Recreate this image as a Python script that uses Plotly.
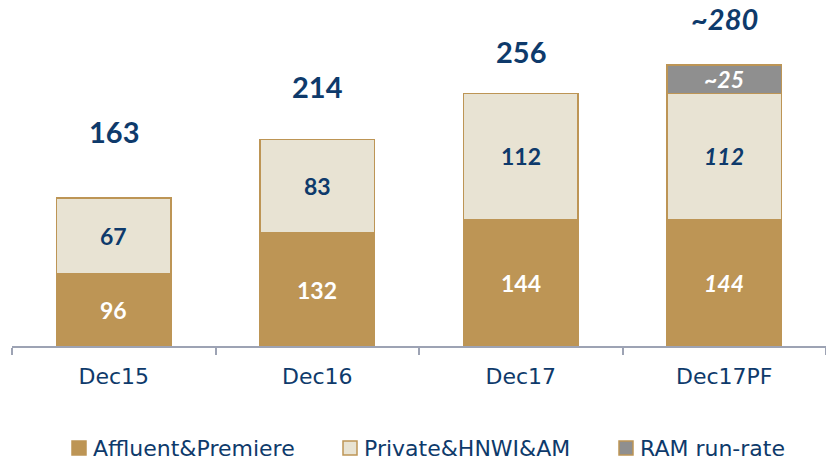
import plotly.graph_objects as go

categories = ["Dec15", "Dec16", "Dec17", "Dec17PF"]
affluent = [96, 132, 144, 144]
private = [67, 83, 112, 112]
ram = [0, 0, 0, 25]
totals = [163, 214, 256, 280]
total_labels = ["163", "214", "256", "~280"]
ram_labels = ["", "", "", "~25"]
series_names = ["Affluent&Premiere", "Private&HNWI&AM", "RAM run-rate"]
axis_floor = 32

GOLD = "#BD9555"
CREAM = "#E8E3D3"
GREY = "#8F8F8F"
NAVY = "#0E3A6B"
NUMFONT = "Lato"
TXTFONT = "DejaVu Sans"
W, H = 826, 462
ML, MB = 12, 116
PW, PH = W - ML, H - MB

fig = go.Figure()
colors = [GOLD, CREAM, GREY]
for name, vals, col in zip(series_names, [affluent, private, ram], colors):
    fig.add_trace(go.Bar(x=categories, y=vals, name=name, showlegend=False,
                         marker=dict(color=col, line=dict(color=GOLD, width=1.5))))

# segment labels
for i, c in enumerate(categories):
    italic = "italic" if c == "Dec17PF" else "normal"
    seg = dict(family=NUMFONT, size=23, weight="bold", style=italic)
    fig.add_annotation(x=c, y=(axis_floor + affluent[i]) / 2, text=str(affluent[i]),
                       showarrow=False, font=dict(seg, color="white"))
    fig.add_annotation(x=c, y=affluent[i] + private[i] / 2, text=str(private[i]),
                       showarrow=False, font=dict(seg, color=NAVY))
    if ram[i]:
        fig.add_annotation(x=c, y=affluent[i] + private[i] + ram[i] / 2, text=ram_labels[i],
                           showarrow=False, font=dict(seg, color="white"))
    fig.add_annotation(x=c, y=totals[i], text=total_labels[i], showarrow=False,
                       yshift=[67, 54, 42, 48][i],
                       font=dict(family=NUMFONT, size=29, color=NAVY, weight="bold", style=italic))

# manual legend (pixel positions converted to paper coords)
def px(x):
    return (x - ML) / PW

def py(y):
    return (PH - y) / PH

leg_x = [72, 343, 619]
leg_y = 448
for name, col, lx in zip(series_names, colors, leg_x):
    fig.add_shape(type="rect", xref="paper", yref="paper",
                  x0=px(lx), x1=px(lx + 14), y0=py(leg_y + 7), y1=py(leg_y - 7),
                  fillcolor=col, line=dict(color=GOLD, width=1.5))
    fig.add_annotation(xref="paper", yref="paper", x=px(lx + 19), y=py(leg_y),
                       xanchor="left", yanchor="middle", text=name, showarrow=False,
                       font=dict(family=TXTFONT, size=22, color=NAVY))

fig.update_layout(
    barmode="stack", bargap=0.435,
    width=W, height=H,
    margin=dict(l=ML, r=0, t=0, b=MB),
    plot_bgcolor="white", paper_bgcolor="white",
    font=dict(family=TXTFONT, color=NAVY),
    showlegend=False,
    xaxis=dict(showline=True, linecolor="#9DA3B4", linewidth=1.5, ticks="outside",
               tickson="boundaries", ticklen=7, tickcolor="#9DA3B4", tickwidth=1.5,
               ticklabelstandoff=10,
               tickfont=dict(family=TXTFONT, size=22, color=NAVY), showgrid=False),
    yaxis=dict(range=[axis_floor, 338.7], visible=False, showgrid=False),
)
fig.write_html("out.html", config={"displayModeBar": False},
               post_script="document.body.style.margin='0';")
